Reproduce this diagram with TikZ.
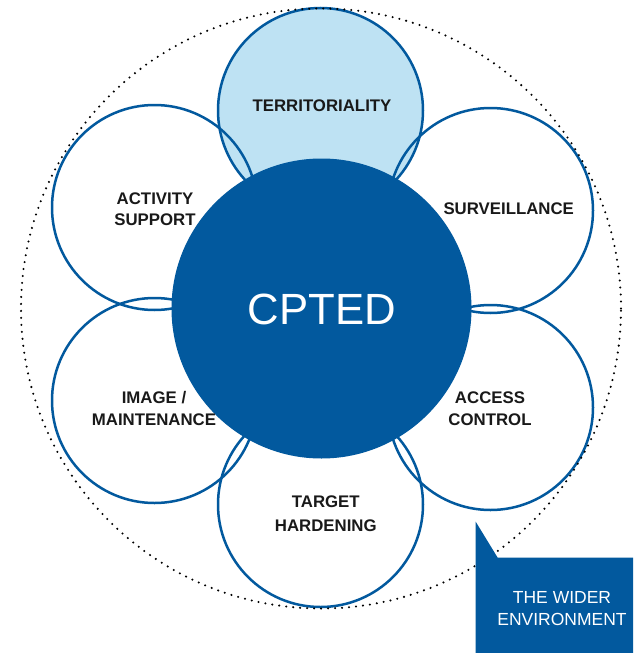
\documentclass[tikz,border=0pt]{standalone}
\usepackage{fontspec}
\setmainfont{Liberation Sans}
\definecolor{cpblue}{RGB}{2,89,158}
\definecolor{lightblue}{RGB}{190,226,243}
\begin{document}
\begin{tikzpicture}[x=1pt,y=-1pt,
  petal/.style={circle,draw=cpblue,line width=2.5pt,minimum size=205pt,inner sep=0pt},
  core/.style={circle,fill=cpblue,minimum size=300pt,inner sep=0pt},
  label/.style={align=center,inner sep=0pt,text=black!90,font=\bfseries\fontsize{16.8}{21.5}\selectfont},
  corelabel/.style={inner sep=0pt,text=white,font=\fontsize{43.7}{44}\selectfont},
  boxlabel/.style={align=center,inner sep=0pt,text=white,font=\fontsize{17.5}{21.7}\selectfont},
  wider/.style={circle,draw=black,line width=2.3pt,line cap=round,dash pattern=on 0pt off 7pt,minimum size=600pt,inner sep=0pt}
]
\useasboundingbox (0,0) rectangle (633,653);
\fill[white] (0,0) rectangle (633,653);
% territoriality fill
\fill[lightblue] (320.5,110.5) circle[radius=102.5];
% petals
\node[petal] (terr) at (320.5,110.5) {};
\node[petal] (surv) at (490.5,210.5) {};
\node[petal] (acc)  at (490.5,407.5) {};
\node[petal] (targ) at (320.5,504.5) {};
\node[petal] (img)  at (154.5,400.5) {};
\node[petal] (act)  at (154.5,207.5) {};
% wider environment
\node[wider] (env) at (321,308.5) {};
% core
\node[core] (cpted) at (321.5,308.5) {};
\node[corelabel] (cptedlabel) at (322,309) {CPTED};
% labels
\node[label] (terrlabel) at (322,105.5) {TERRITORIALITY};
\node[label] (survlabel) at (508.7,208.3) {SURVEILLANCE};
\node[label] (actlabel) at (155,209.2) {ACTIVITY\\SUPPORT};
\node[label] (imglabel) at (154,408.6) {IMAGE /\\MAINTENANCE};
\node[label] (acclabel) at (490,408.9) {ACCESS\\CONTROL};
\node[label,font=\bfseries\fontsize{16.8}{24}\selectfont] (targlabel) at (325.8,513.3) {TARGET\\HARDENING};
% callout box
\fill[cpblue] (475.7,521.7) -- (475.7,653) -- (633,653) -- (633,557.7) -- (497.7,557.7) -- cycle;
\node[boxlabel] (boxlabel) at (562,608.8) {THE WIDER\\ENVIRONMENT};
\end{tikzpicture}
\end{document}
